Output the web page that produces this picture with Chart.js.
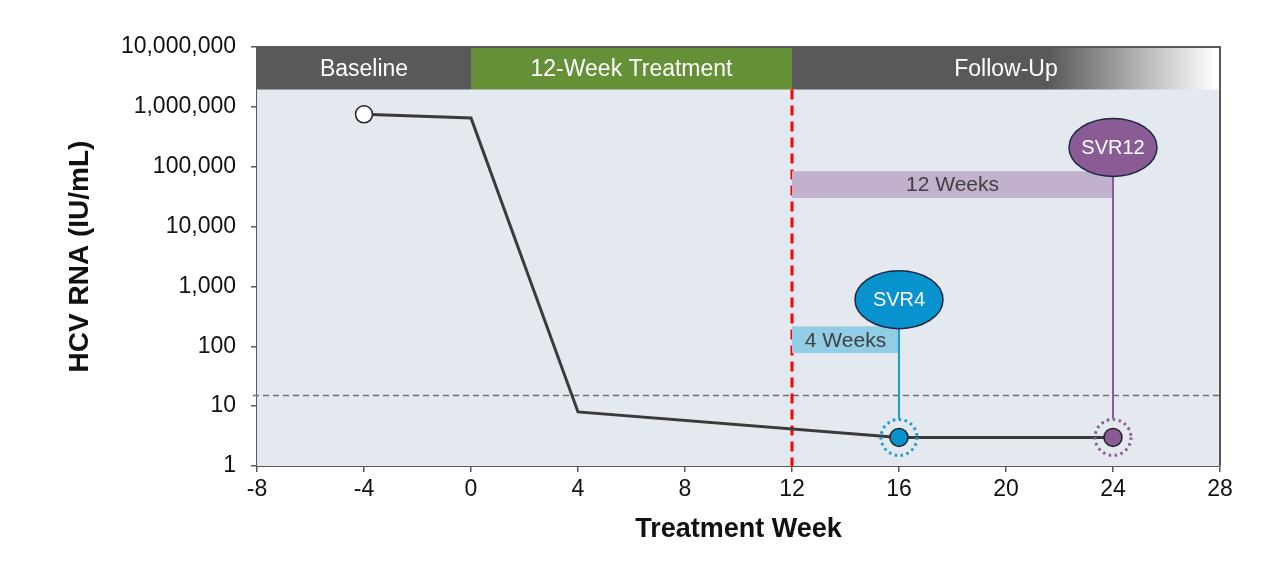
<!DOCTYPE html>
<html>
<head>
<meta charset="utf-8">
<title>HCV RNA by Treatment Week</title>
<script src="https://cdn.jsdelivr.net/npm/chart.js@4.4.1/dist/chart.umd.min.js"></script>
<style>
  html, body { margin: 0; padding: 0; background: #ffffff; }
  #chart { display: block; }
</style>
</head>
<body>
<canvas id="chart" width="1280" height="572"></canvas>
<script>
// viral load course
var weeks = [-4, 0, 4, 16, 24];
var hcvRna = [750000, 650000, 8, 3, 3];

// axis ticks
var xTicks = [-8, -4, 0, 4, 8, 12, 16, 20, 24, 28];
var yTicks = [1, 10, 100, 1000, 10000, 100000, 1000000, 10000000];

// study phases (header band)
var phaseNames = ['Baseline', '12-Week Treatment', 'Follow-Up'];
var phaseStart = [-8, 0, 12];
var phaseEnd = [0, 12, 28];
var bandLow = 1950000;
var bandHigh = 10000000;

// lower limit of quantification, end of treatment
var lloq = 15;
var endOfTreatment = 12;

// SVR time points
var svrNames = ['SVR4', 'SVR12'];
var svrWeek = [16, 24];
var svrLabelLevel = [600, 210000];
var windowNames = ['4 Weeks', '12 Weeks'];
var windowLow = [77, 30000];
var windowHigh = [215, 84000];

var FONT = '"Liberation Sans", Arial, Helvetica, sans-serif';
var svrFill = ['#0893cf', '#8a5c96'];
var svrRing = ['#1a9ad7', '#8a5c96'];
var windowFill = ['#92cde6', '#c1b1cd'];

function svrIndex(week) {
    return svrWeek.indexOf(week);
}

var hcvDecor = {
    id: 'hcvDecor',
    beforeDatasetsDraw: function (chart) {
        var ctx = chart.ctx, a = chart.chartArea;
        var x = chart.scales.x, y = chart.scales.y;
        ctx.save();

        //plot background
        ctx.fillStyle = '#e4e9f0';
        ctx.fillRect(a.left, a.top, a.right - a.left, a.bottom - a.top);

        //phase band
        var bTop = y.getPixelForValue(bandHigh);
        var bBot = y.getPixelForValue(bandLow);
        phaseNames.forEach(function (name, i) {
            var x0 = x.getPixelForValue(phaseStart[i]);
            var x1 = x.getPixelForValue(phaseEnd[i]);
            var fill = i === 1 ? '#669037' : '#595959';
            if (i === 2) {
                var g = ctx.createLinearGradient(x0, 0, x1, 0);
                g.addColorStop(0, '#595959');
                g.addColorStop(0.6, '#595959');
                g.addColorStop(0.99, '#ffffff');
                g.addColorStop(1, '#ffffff');
                fill = g;
            }
            ctx.fillStyle = fill;
            ctx.fillRect(x0, bTop, x1 - x0, bBot - bTop);
            ctx.fillStyle = '#ffffff';
            ctx.font = '23px ' + FONT;
            ctx.textAlign = 'center';
            ctx.textBaseline = 'middle';
            ctx.fillText(name, (x0 + x1) / 2, (bTop + bBot) / 2 + 1);
        });

        //LLOQ dashed line
        var yl = y.getPixelForValue(lloq);
        ctx.strokeStyle = '#6e6e6e';
        ctx.lineWidth = 1.5;
        ctx.setLineDash([6, 4]);
        ctx.beginPath();
        ctx.moveTo(a.left - 4, yl);
        ctx.lineTo(a.right, yl);
        ctx.stroke();

        //end of treatment
        var xe = x.getPixelForValue(endOfTreatment);
        ctx.strokeStyle = '#ff0000';
        ctx.lineWidth = 3;
        ctx.setLineDash([10, 6]);
        ctx.beginPath();
        ctx.moveTo(xe, bBot);
        ctx.lineTo(xe, a.bottom);
        ctx.stroke();
        ctx.setLineDash([]);

        //follow-up windows
        windowNames.forEach(function (name, i) {
            var x0 = x.getPixelForValue(endOfTreatment);
            var x1 = x.getPixelForValue(svrWeek[i]);
            var y0 = y.getPixelForValue(windowHigh[i]);
            var y1 = y.getPixelForValue(windowLow[i]);
            ctx.fillStyle = windowFill[i];
            ctx.fillRect(x0, y0, x1 - x0, y1 - y0);
            ctx.fillStyle = '#404040';
            ctx.font = '21px ' + FONT;
            ctx.textAlign = 'center';
            ctx.textBaseline = 'middle';
            ctx.fillText(name, (x0 + x1) / 2, (y0 + y1) / 2 + 1);
        });

        //connectors and SVR bubbles
        svrNames.forEach(function (name, i) {
            var cx = x.getPixelForValue(svrWeek[i]);
            var cy = y.getPixelForValue(svrLabelLevel[i]);
            var py = y.getPixelForValue(hcvRna[weeks.indexOf(svrWeek[i])]);
            ctx.strokeStyle = svrRing[i];
            ctx.lineWidth = 2;
            ctx.beginPath();
            ctx.moveTo(cx, cy + 29);
            ctx.lineTo(cx, py - 19);
            ctx.stroke();

            ctx.beginPath();
            ctx.ellipse(cx, cy, 44, 29, 0, 0, Math.PI * 2);
            ctx.fillStyle = svrFill[i];
            ctx.fill();
            ctx.strokeStyle = '#1e2740';
            ctx.lineWidth = 1.5;
            ctx.stroke();
            ctx.fillStyle = '#ffffff';
            ctx.font = '20px ' + FONT;
            ctx.textAlign = 'center';
            ctx.textBaseline = 'middle';
            ctx.fillText(name, cx, cy + 1);
        });
        ctx.restore();
    },
    afterDatasetsDraw: function (chart) {
        var ctx = chart.ctx, a = chart.chartArea;
        var x = chart.scales.x, y = chart.scales.y;
        ctx.save();
        //dotted rings
        svrWeek.forEach(function (w, i) {
            var cx = x.getPixelForValue(w);
            var cy = y.getPixelForValue(hcvRna[weeks.indexOf(w)]);
            ctx.strokeStyle = svrRing[i];
            ctx.lineWidth = 3;
            ctx.setLineDash([2.5, 3.5]);
            ctx.beginPath();
            ctx.arc(cx, cy, 18, 0, Math.PI * 2);
            ctx.stroke();
        });
        ctx.setLineDash([]);
        //frame top and right
        ctx.strokeStyle = '#595959';
        ctx.lineWidth = 2;
        ctx.beginPath();
        ctx.moveTo(a.left, a.top);
        ctx.lineTo(a.right, a.top);
        ctx.lineTo(a.right, a.bottom);
        ctx.stroke();
        ctx.restore();
    }
};

var chartCanvas = document.getElementById('chart');
var hcvChart = new Chart(chartCanvas, {
    type: 'line',
    data: {
        datasets: [{
            data: weeks.map(function (w, i) { return { x: w, y: hcvRna[i] }; }),
            borderColor: '#3a3a3a',
            borderWidth: 3,
            tension: 0,
            pointRadius: function (c) {
                var w = weeks[c.dataIndex];
                return w === -4 ? 8.5 : (svrIndex(w) >= 0 ? 9 : 0);
            },
            pointBackgroundColor: function (c) {
                var k = svrIndex(weeks[c.dataIndex]);
                return k >= 0 ? svrFill[k] : '#ffffff';
            },
            pointBorderColor: '#222222',
            pointBorderWidth: 1.5
        }]
    },
    options: {
        responsive: false,
        animation: false,
        devicePixelRatio: 1,
        layout: { padding: { left: 0, top: 47, right: 60, bottom: 0 } },
        plugins: {
            legend: { display: false },
            tooltip: { enabled: false }
        },
        scales: {
            x: {
                type: 'linear',
                min: -8,
                max: 28,
                afterBuildTicks: function (s) {
                    s.ticks = xTicks.map(function (v) { return { value: v }; });
                },
                afterFit: function (s) { s.height = 106; },
                grid: { drawOnChartArea: false, drawTicks: true, tickLength: 6, color: '#595959', lineWidth: 1.5 },
                border: { color: '#595959', width: 2 },
                ticks: {
                    color: '#111111',
                    padding: 4,
                    maxRotation: 0,
                    font: { family: FONT, size: 23 }
                },
                title: {
                    display: true,
                    text: 'Treatment Week',
                    color: '#111111',
                    padding: { top: 0, bottom: 26 },
                    font: { family: FONT, size: 27, weight: 'bold', lineHeight: 1.2 }
                }
            },
            y: {
                type: 'logarithmic',
                min: 1,
                max: 10000000,
                afterBuildTicks: function (s) {
                    s.ticks = yTicks.map(function (v) { return { value: v }; });
                },
                afterFit: function (s) { s.width = 257; },
                grid: { drawOnChartArea: false, drawTicks: true, tickLength: 6, color: '#595959', lineWidth: 1.5 },
                border: { color: '#595959', width: 2 },
                ticks: {
                    color: '#111111',
                    padding: 15,
                    font: { family: FONT, size: 23 },
                    callback: function (v) { return Number(v).toLocaleString('en-US'); }
                },
                title: {
                    display: true,
                    text: 'HCV RNA (IU/mL)',
                    color: '#111111',
                    padding: { top: 63, bottom: 0 },
                    font: { family: FONT, size: 28, weight: 'bold', lineHeight: 1.2 }
                }
            }
        }
    },
    plugins: [hcvDecor]
});
</script>
</body>
</html>
